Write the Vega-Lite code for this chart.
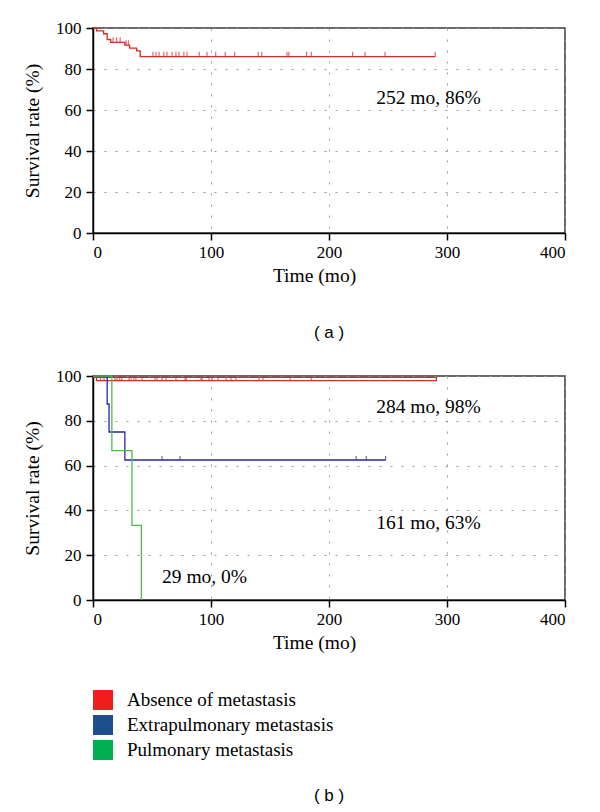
{
  "$schema": "https://vega.github.io/schema/vega-lite/v6.json",
  "padding": {"left": 21, "top": 18, "right": 10, "bottom": 5},
  "background": "white",
  "resolve": {"legend": {"fill": "independent"}},
  "config": {
    "font": "Liberation Serif",
    "view": {"stroke": "#3a3a3a", "strokeWidth": 1.5},
    "axis": {
      "domainColor": "black", "domainWidth": 1.5,
      "tickColor": "black", "tickWidth": 1.5, "tickSize": 7,
      "labelFont": "Liberation Serif", "labelFontSize": 17, "labelColor": "black",
      "titleFont": "Liberation Serif", "titleFontSize": 19.5, "titleFontWeight": "normal", "titleColor": "black",
      "gridColor": "#999999", "gridDash": [2, 9], "gridWidth": 1
    },
    "axisX": {"labelPadding": 4, "titlePadding": 6, "titleX": 221},
    "axisY": {"labelPadding": 5, "titlePadding": 13},
    "title": {"font": "Liberation Sans", "fontSize": 17, "fontWeight": "normal", "color": "black", "orient": "bottom", "anchor": "middle"},
    "concat": {"spacing": 24}
  },
  "datasets": {
    "a_curve": [
      {"t": 0, "s": 100}, {"t": 3, "s": 98.6}, {"t": 9, "s": 97.2}, {"t": 12, "s": 94.4},
      {"t": 15, "s": 93.0}, {"t": 27, "s": 91.6}, {"t": 31, "s": 90.2}, {"t": 37, "s": 88.8},
      {"t": 40, "s": 86.0}, {"t": 290, "s": 86.0}
    ],
    "a_cens": [
      {"t": 17, "s": 93.0}, {"t": 20, "s": 93.0}, {"t": 23, "s": 93.0}, {"t": 28, "s": 91.6}, {"t": 30, "s": 91.6},
      {"t": 50.8, "s": 86}, {"t": 53.4, "s": 86}, {"t": 56, "s": 86}, {"t": 60, "s": 86}, {"t": 62.7, "s": 86},
      {"t": 67, "s": 86}, {"t": 70.3, "s": 86}, {"t": 72.9, "s": 86}, {"t": 77, "s": 86}, {"t": 79.7, "s": 86},
      {"t": 90, "s": 86}, {"t": 96.6, "s": 86}, {"t": 104, "s": 86}, {"t": 112, "s": 86}, {"t": 120, "s": 86},
      {"t": 140, "s": 86}, {"t": 143, "s": 86}, {"t": 164.4, "s": 86}, {"t": 166, "s": 86}, {"t": 181, "s": 86},
      {"t": 185, "s": 86}, {"t": 220, "s": 86}, {"t": 230.5, "s": 86}, {"t": 247.5, "s": 86}, {"t": 290, "s": 86}
    ],
    "a_text": [{"t": 240, "s": 66, "label": "252 mo, 86%"}],
    "b_curves": [
      {"group": "Absence of metastasis", "k": 0, "t": 0, "s": 99.4},
      {"group": "Absence of metastasis", "k": 1, "t": 291, "s": 99.4},
      {"group": "Absence of metastasis", "k": 2, "t": 291, "s": 97.9},
      {"group": "Absence of metastasis", "k": 3, "t": 3, "s": 97.9},
      {"group": "Absence of metastasis", "k": 4, "t": 3, "s": 99.4},
      {"group": "Extrapulmonary metastasis", "k": 0, "t": 0, "s": 100},
      {"group": "Extrapulmonary metastasis", "k": 1, "t": 12, "s": 87.5},
      {"group": "Extrapulmonary metastasis", "k": 2, "t": 13.6, "s": 75},
      {"group": "Extrapulmonary metastasis", "k": 3, "t": 27, "s": 62.5},
      {"group": "Extrapulmonary metastasis", "k": 4, "t": 248, "s": 62.5},
      {"group": "Pulmonary metastasis", "k": 0, "t": 0, "s": 100},
      {"group": "Pulmonary metastasis", "k": 1, "t": 16, "s": 66.7},
      {"group": "Pulmonary metastasis", "k": 2, "t": 33, "s": 33.3},
      {"group": "Pulmonary metastasis", "k": 3, "t": 41, "s": 0}
    ],
    "b_cens": [
      {"group": "Absence of metastasis", "t": 6.5, "s": 97.9},
      {"group": "Absence of metastasis", "t": 9.3, "s": 97.9},
      {"group": "Absence of metastasis", "t": 18.6, "s": 97.9},
      {"group": "Absence of metastasis", "t": 20.3, "s": 97.9},
      {"group": "Absence of metastasis", "t": 22.6, "s": 97.9},
      {"group": "Absence of metastasis", "t": 24.3, "s": 97.9},
      {"group": "Absence of metastasis", "t": 30.5, "s": 97.9},
      {"group": "Absence of metastasis", "t": 32.2, "s": 97.9},
      {"group": "Absence of metastasis", "t": 34.7, "s": 97.9},
      {"group": "Absence of metastasis", "t": 36.4, "s": 97.9},
      {"group": "Absence of metastasis", "t": 41.5, "s": 97.9},
      {"group": "Absence of metastasis", "t": 52.5, "s": 97.9},
      {"group": "Absence of metastasis", "t": 54.2, "s": 97.9},
      {"group": "Absence of metastasis", "t": 58.5, "s": 97.9},
      {"group": "Absence of metastasis", "t": 61.9, "s": 97.9},
      {"group": "Absence of metastasis", "t": 70.3, "s": 97.9},
      {"group": "Absence of metastasis", "t": 78, "s": 97.9},
      {"group": "Absence of metastasis", "t": 79, "s": 97.9},
      {"group": "Absence of metastasis", "t": 91.5, "s": 97.9},
      {"group": "Absence of metastasis", "t": 92.5, "s": 97.9},
      {"group": "Absence of metastasis", "t": 98.3, "s": 97.9},
      {"group": "Absence of metastasis", "t": 100.8, "s": 97.9},
      {"group": "Absence of metastasis", "t": 106, "s": 97.9},
      {"group": "Absence of metastasis", "t": 112.7, "s": 97.9},
      {"group": "Absence of metastasis", "t": 117, "s": 97.9},
      {"group": "Absence of metastasis", "t": 121.2, "s": 97.9},
      {"group": "Absence of metastasis", "t": 140.7, "s": 97.9},
      {"group": "Absence of metastasis", "t": 144, "s": 97.9},
      {"group": "Absence of metastasis", "t": 167, "s": 97.9},
      {"group": "Absence of metastasis", "t": 185, "s": 97.9},
      {"group": "Extrapulmonary metastasis", "t": 58.5, "s": 62.5},
      {"group": "Extrapulmonary metastasis", "t": 73.7, "s": 62.5},
      {"group": "Extrapulmonary metastasis", "t": 223, "s": 62.5},
      {"group": "Extrapulmonary metastasis", "t": 231.6, "s": 62.5},
      {"group": "Extrapulmonary metastasis", "t": 248, "s": 62.5}
    ],
    "b_text": [
      {"t": 240, "s": 86, "label": "284 mo, 98%"},
      {"t": 240, "s": 34.5, "label": "161 mo, 63%"},
      {"t": 58.5, "s": 10.3, "label": "29 mo, 0%"}
    ]
  },
  "vconcat": [
    {
      "width": 472,
      "height": 205,
      "title": {"text": "( a )", "offset": 40},
      "layer": [
        {
          "data": {"name": "a_curve"},
          "mark": {"type": "line", "interpolate": "step-after", "color": "#d42a2a", "strokeWidth": 1.3},
          "encoding": {
            "x": {"field": "t", "type": "quantitative", "scale": {"domain": [0, 400], "nice": false},
                  "axis": {"values": [0, 100, 200, 300, 400], "title": "Time (mo)", "grid": true}},
            "y": {"field": "s", "type": "quantitative", "scale": {"domain": [0, 100], "nice": false},
                  "axis": {"values": [0, 20, 40, 60, 80, 100], "title": "Survival rate (%)", "grid": true}}
          }
        },
        {
          "data": {"name": "a_cens"},
          "mark": {"type": "tick", "orient": "vertical", "color": "#d42a2a", "size": 5, "thickness": 1.2, "yOffset": -2.5},
          "encoding": {
            "x": {"field": "t", "type": "quantitative"},
            "y": {"field": "s", "type": "quantitative"}
          }
        },
        {
          "data": {"name": "a_text"},
          "mark": {"type": "text", "align": "left", "baseline": "middle", "fontSize": 19.5, "font": "Liberation Serif", "color": "black"},
          "encoding": {
            "x": {"field": "t", "type": "quantitative"},
            "y": {"field": "s", "type": "quantitative"},
            "text": {"field": "label"}
          }
        }
      ]
    },
    {
      "width": 472,
      "height": 224,
      "title": {"text": "( b )", "offset": 28},
      "layer": [
        {
          "data": {"name": "b_curves"},
          "mark": {"type": "square", "opacity": 0},
          "encoding": {
            "x": {"field": "t", "type": "quantitative", "scale": {"domain": [0, 400], "nice": false},
                  "axis": {"values": [0, 100, 200, 300, 400], "title": "Time (mo)", "grid": true}},
            "y": {"field": "s", "type": "quantitative", "scale": {"domain": [0, 100], "nice": false},
                  "axis": {"values": [0, 20, 40, 60, 80, 100], "title": "Survival rate (%)", "grid": true}},
            "fill": {"field": "group", "type": "nominal",
                     "scale": {"domain": ["Absence of metastasis", "Extrapulmonary metastasis", "Pulmonary metastasis"],
                               "range": ["#f01e1e", "#1f4e8c", "#00b050"]},
                     "legend": {"title": null, "orient": "bottom", "direction": "vertical", "symbolType": "square",
                                "symbolSize": 400, "symbolStrokeWidth": 0, "symbolOpacity": 1,
                                "labelFont": "Liberation Serif", "labelFontSize": 19, "labelColor": "black",
                                "labelLimit": 0, "labelOffset": 14, "rowPadding": 5, "offset": 38, "padding": 0}}
          }
        },
        {
          "data": {"name": "b_curves"},
          "mark": {"type": "line", "interpolate": "step-after", "strokeWidth": 1.3},
          "encoding": {
            "x": {"field": "t", "type": "quantitative"},
            "y": {"field": "s", "type": "quantitative"},
            "order": {"field": "k", "type": "quantitative"},
            "color": {"field": "group", "type": "nominal",
                      "scale": {"domain": ["Absence of metastasis", "Extrapulmonary metastasis", "Pulmonary metastasis"],
                                "range": ["#d42a2a", "#2626a6", "#4cbb4c"]},
                      "legend": null}
          }
        },
        {
          "data": {"name": "b_cens"},
          "mark": {"type": "tick", "orient": "vertical", "size": 4, "thickness": 1.2, "yOffset": -2},
          "encoding": {
            "x": {"field": "t", "type": "quantitative"},
            "y": {"field": "s", "type": "quantitative"},
            "color": {"field": "group", "type": "nominal", "legend": null}
          }
        },
        {
          "data": {"name": "b_text"},
          "mark": {"type": "text", "align": "left", "baseline": "middle", "fontSize": 19.5, "font": "Liberation Serif", "color": "black"},
          "encoding": {
            "x": {"field": "t", "type": "quantitative"},
            "y": {"field": "s", "type": "quantitative"},
            "text": {"field": "label"}
          }
        }
      ]
    }
  ]
}
